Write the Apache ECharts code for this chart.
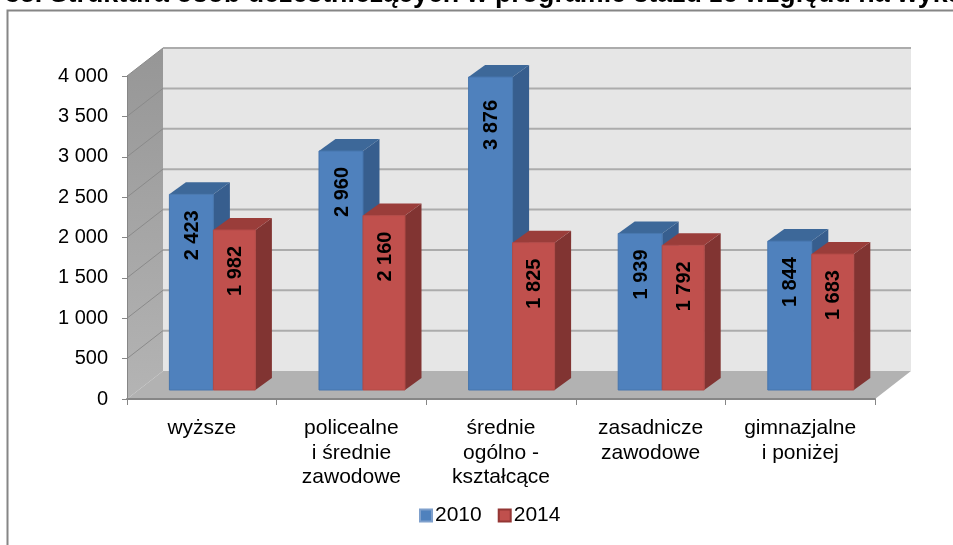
<!DOCTYPE html>
<html>
<head>
<meta charset="utf-8">
<style>html,body{margin:0;padding:0;background:#fff;overflow:hidden}#c{width:953px;height:545px}</style>
<script src="https://cdn.jsdelivr.net/npm/echarts@6/dist/echarts.min.js"></script>
</head>
<body>
<div id="c"></div>
<script>
const titleText = '35. Struktura osób uczestniczących w programie stażu ze względu na wykształcenie';
const categories = ['wyższe', 'policealne\ni średnie\nzawodowe', 'średnie\nogólno -\nkształcące', 'zasadnicze\nzawodowe', 'gimnazjalne\ni poniżej'];
const values2010 = [2423, 2960, 3876, 1939, 1844];
const values2014 = [1982, 2160, 1825, 1792, 1683];
const yTicks = [0, 500, 1000, 1500, 2000, 2500, 3000, 3500, 4000];

const FONT = '"Liberation Sans", Arial, sans-serif';
const WALL_DX = 36, WALL_DY = -28;
const BASE_DX = 11.6, BASE_DY = -9;
const BAR_DX = 16.5, BAR_DY = -12;
const fmt = v => String(v).replace(/\B(?=(\d{3})+$)/g, ' ');

function poly(points, fill, z2) {
  return { type: 'polygon', z2: z2 || 0, shape: { points }, style: { fill, stroke: null } };
}

function renderWalls(params, api) {
  const cs = params.coordSys;
  const l = cs.x, r = cs.x + cs.width;
  const y0 = api.coord([0, 0])[1];
  const yTop = api.coord([0, 4000])[1];
  const kids = [];
  kids.push(poly([[l + WALL_DX, yTop + WALL_DY], [r + WALL_DX, yTop + WALL_DY], [r + WALL_DX, y0 + WALL_DY], [l + WALL_DX, y0 + WALL_DY]], '#e6e6e6'));
  kids.push({
    type: 'polygon',
    shape: { points: [[l, yTop], [l + WALL_DX, yTop + WALL_DY], [l + WALL_DX, y0 + WALL_DY], [l, y0]] },
    style: { fill: new echarts.graphic.LinearGradient(0, 0, 0, 1, [{ offset: 0, color: '#969696' }, { offset: 1, color: '#b4b4b4' }]) }
  });
  kids.push(poly([[l, y0], [r, y0], [r + WALL_DX, y0 + WALL_DY], [l + WALL_DX, y0 + WALL_DY]], '#b2b2b2'));
  yTicks.forEach(t => {
    const y = api.coord([0, t])[1];
    if (t > 0) {
      kids.push({ type: 'line', shape: { x1: l + WALL_DX, y1: y + WALL_DY, x2: r + WALL_DX, y2: y + WALL_DY }, style: { stroke: '#acacac', lineWidth: 2 } });
      kids.push({ type: 'line', shape: { x1: l, y1: y, x2: l + WALL_DX, y2: y + WALL_DY }, style: { stroke: '#8a8a8a', lineWidth: 1 } });
    }
  });
  return { type: 'group', children: kids };
}

function barRenderer(side, width, colors) {
  return function (params, api) {
    const idx = api.value(0), val = api.value(1);
    const pTop = api.coord([idx, val]);
    const pBase = api.coord([idx, 0]);
    const cx = pTop[0] + BASE_DX;
    const x1 = side < 0 ? cx - width : cx;
    const x2 = side < 0 ? cx : cx + width;
    const yT = pTop[1] + BASE_DY, yB = pBase[1] + BASE_DY;
    const labelDrop = val > 3500 ? 48 : 41;
    return {
      type: 'group',
      children: [
        poly([[x2, yT], [x2 + BAR_DX, yT + BAR_DY], [x2 + BAR_DX, yB + BAR_DY], [x2, yB]], colors.side),
        poly([[x1, yT], [x1 + 4, yT - 3], [x1 + BAR_DX, yT + BAR_DY], [x2 + BAR_DX, yT + BAR_DY], [x2, yT]], colors.top),
        { type: 'rect', shape: { x: x1, y: yT, width: x2 - x1, height: yB - yT }, style: { fill: colors.front, stroke: colors.edge, lineWidth: 1 } },
        {
          type: 'text',
          x: (x1 + x2) / 2 + 1,
          y: yT + labelDrop,
          rotation: Math.PI / 2,
          style: { text: fmt(val), fill: '#000', font: 'bold 20px ' + FONT, align: 'center', verticalAlign: 'middle' }
        }
      ]
    };
  };
}

const chart = echarts.init(document.getElementById('c'), null, { renderer: 'canvas', width: 953, height: 545 });
chart.setOption({
  animation: false,
  backgroundColor: '#fff',
  title: {
    text: titleText, left: 5, top: -19, padding: 0,
    textStyle: { fontFamily: FONT, fontWeight: 'bold', fontSize: 26.8, color: '#000' }
  },
  graphic: [{
    type: 'rect', silent: true, z: -10,
    shape: { x: 7.5, y: 10.5, width: 1100, height: 700 },
    style: { fill: 'transparent', stroke: '#868686', lineWidth: 2 }
  }],
  grid: { left: 127, right: 78, top: 76, bottom: 146 },
  legend: {
    data: ['2010', '2014'], left: 419, top: 505, padding: 0,
    itemWidth: 12, itemHeight: 12, itemGap: 16, icon: 'rect',
    textStyle: { fontFamily: FONT, fontSize: 21, color: '#000', padding: [0, 0, 0, -2] }
  },
  xAxis: {
    type: 'category', data: categories, boundaryGap: true,
    axisLine: { lineStyle: { color: '#868686', width: 2 } },
    axisTick: { show: true, length: 6, lineStyle: { color: '#868686' } },
    axisLabel: { interval: 0, margin: 17, fontFamily: FONT, fontSize: 21, lineHeight: 24.5, color: '#000' },
    splitLine: { show: false }
  },
  yAxis: {
    type: 'value', min: 0, max: 4000, interval: 500,
    axisLine: { show: true, lineStyle: { color: '#868686' } },
    axisTick: { show: true, length: 5, lineStyle: { color: '#868686' } },
    axisLabel: { margin: 19, fontFamily: FONT, fontSize: 20, color: '#000', formatter: fmt, padding: [2, 0, 0, 0] },
    splitLine: { show: false }
  },
  series: [
    { type: 'custom', name: 'walls', z: -1, silent: true, clip: false, data: [[0, 0]], encode: { x: 0, y: 1 }, renderItem: renderWalls },
    {
      type: 'custom', name: '2010', z: 2, clip: false,
      itemStyle: { color: '#4f81bd', borderColor: '#7fa0cc', borderWidth: 1 },
      data: values2010.map((v, i) => [i, v]), encode: { x: 0, y: 1 },
      renderItem: barRenderer(-1, 44, { front: '#4f81bd', edge: '#4675ad', side: '#375e8e', top: '#3d6899' })
    },
    {
      type: 'custom', name: '2014', z: 3, clip: false,
      itemStyle: { color: '#c0504d', borderColor: '#943634', borderWidth: 1 },
      data: values2014.map((v, i) => [i, v]), encode: { x: 0, y: 1 },
      renderItem: barRenderer(1, 42, { front: '#c0504d', edge: '#b24a47', side: '#813432', top: '#9a3d3a' })
    }
  ]
});
</script>
</body>
</html>
